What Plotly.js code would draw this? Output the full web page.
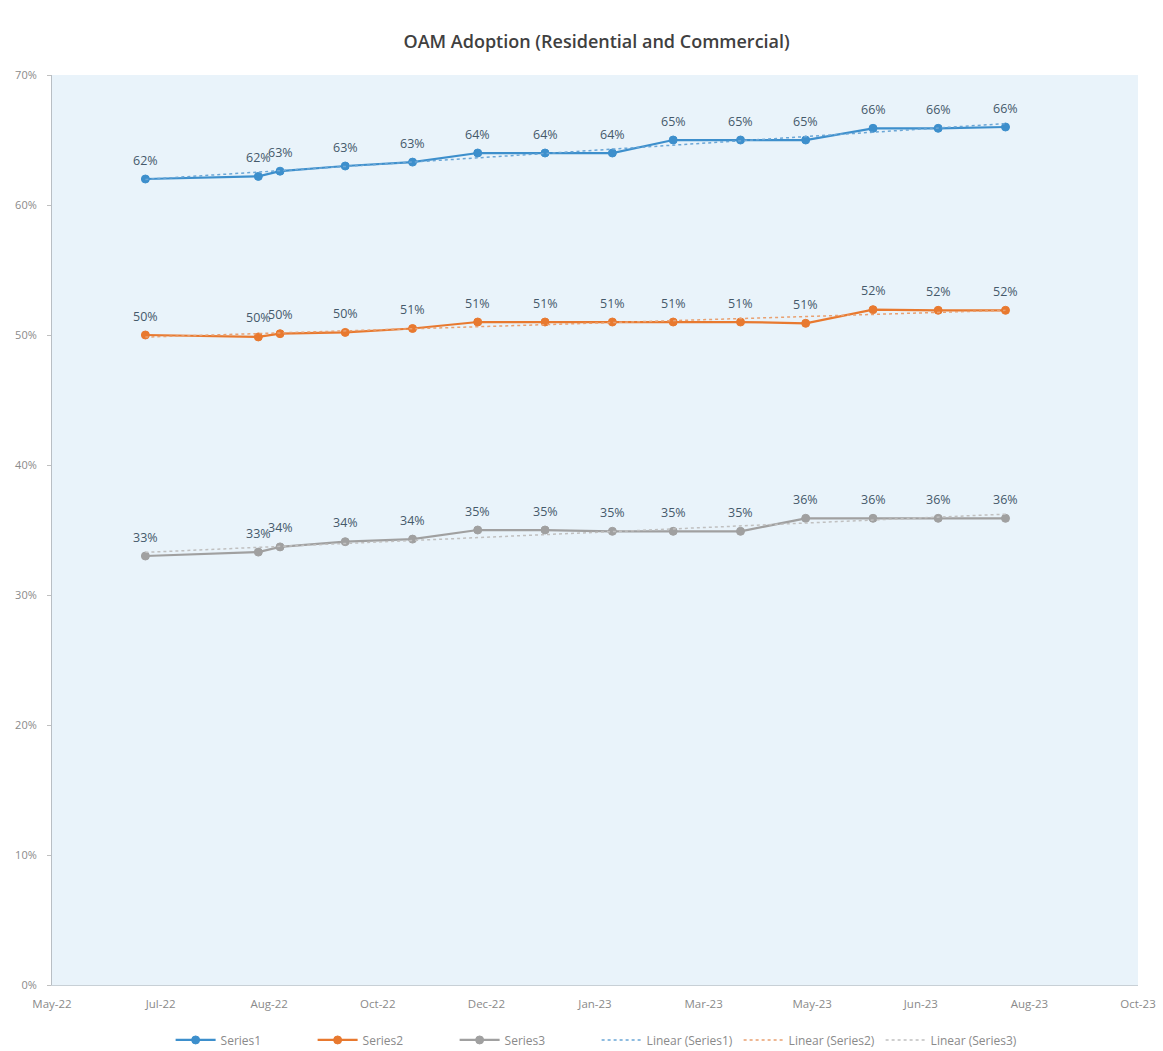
<!DOCTYPE html>
<html>
<head>
<meta charset="utf-8">
<script src="https://cdn.plot.ly/plotly-3.0.1.min.js"></script>
<style>
  html, body { margin: 0; padding: 0; background: #ffffff; }
  #chart { width: 1163px; height: 1051px; }
</style>
</head>
<body>
<div id="chart"></div>
<script>
// ---- Data ----
const dates = ['2022-07-01','2022-08-22','2022-09-01','2022-10-01','2022-11-01','2022-12-01',
               '2023-01-01','2023-02-01','2023-03-01','2023-04-01','2023-05-01','2023-06-01',
               '2023-07-01','2023-08-01'];
const series1 = [0.620, 0.622, 0.626, 0.630, 0.633, 0.640, 0.640, 0.640, 0.650, 0.650, 0.650, 0.659, 0.659, 0.660];
const series2 = [0.500, 0.4985, 0.501, 0.502, 0.505, 0.510, 0.510, 0.510, 0.510, 0.510, 0.509, 0.5195, 0.519, 0.519];
const series3 = [0.330, 0.333, 0.337, 0.341, 0.343, 0.350, 0.350, 0.349, 0.349, 0.349, 0.359, 0.359, 0.359, 0.359];

// Linear trendlines (end points)
const trendDates = ['2022-07-01', '2023-08-01'];
const trend1 = [0.6197, 0.6626];
const trend2 = [0.4984, 0.5190];
const trend3 = [0.3328, 0.3622];

const seriesNames = ['Series1', 'Series2', 'Series3'];
const trendNames = ['Linear (Series1)', 'Linear (Series2)', 'Linear (Series3)'];
const chartTitle = 'OAM Adoption (Residential and Commercial)';

// ---- Styles ----
const colors = ['#3d8fcc', '#e8792f', '#a0a0a0'];
const labelColor = '#45596a';
const fontFam = 'Open Sans, Noto Sans, sans-serif';

function lineTrace(y, name, color) {
  return {
    x: dates, y: y, name: name, type: 'scatter', mode: 'lines+markers',
    line: {color: color, width: 2.25},
    marker: {color: color, size: 8, line: {color: color, width: 1}},
    hoverinfo: 'x+y'
  };
}
function trendTrace(y, name, color) {
  return {
    x: trendDates, y: y, name: name, type: 'scatter', mode: 'lines',
    line: {color: color, width: 1.5, dash: 'dot'}, hoverinfo: 'skip'
  };
}

const traces = [
  lineTrace(series1, seriesNames[0], colors[0]),
  lineTrace(series2, seriesNames[1], colors[1]),
  lineTrace(series3, seriesNames[2], colors[2]),
  trendTrace(trend1, trendNames[0], '#6aa6d6'),
  trendTrace(trend2, trendNames[1], '#e9a070'),
  trendTrace(trend3, trendNames[2], '#c0c0c0')
];

// Data labels placed above each point
const annotations = [];
[series1, series2, series3].forEach(function (ys) {
  ys.forEach(function (v, i) {
    annotations.push({
      x: dates[i], y: v, xref: 'x', yref: 'y',
      text: Math.round(v * 100) + '%',
      showarrow: false, yshift: 19,
      font: {family: fontFam, size: 12.5, color: labelColor}
    });
  });
});

const layout = {
  width: 1163, height: 1051,
  margin: {l: 52, r: 25, t: 75, b: 66},
  paper_bgcolor: '#ffffff',
  plot_bgcolor: '#e9f3fa',
  font: {family: fontFam, color: '#8a8a8a', size: 11},
  title: {
    text: chartTitle,
    x: 0.513, xanchor: 'center', y: 0.96, yanchor: 'middle',
    font: {family: fontFam, size: 18, color: '#404040', weight: 600}
  },
  xaxis: {
    type: 'date',
    range: ['2022-05-19', '2023-10-01'],
    tick0: '2022-05-19',
    dtick: 50 * 86400000,
    tickformat: '%b-%y',
    showgrid: false, zeroline: false,
    showline: true, linecolor: '#c8d0d6', linewidth: 1,
    ticks: '', ticklen: 0,
    ticklabelstandoff: 8,
    automargin: false,
    tickfont: {family: fontFam, size: 11.5, color: '#8a8a8a'}
  },
  yaxis: {
    range: [0, 0.7], dtick: 0.1, tickformat: '.0%',
    showgrid: false, zeroline: false,
    showline: true, linecolor: '#b8bec4', linewidth: 1,
    ticks: 'outside', ticklen: 4, tickcolor: '#c0c0c0',
    ticklabelstandoff: 8,
    automargin: false,
    tickfont: {family: fontFam, size: 11, color: '#8a8a8a'}
  },
  legend: {
    orientation: 'h',
    xref: 'container', x: 0.513, xanchor: 'center',
    yref: 'container', y: 0.0105, yanchor: 'middle',
    font: {family: fontFam, size: 12, color: '#8a8a8a'},
    entrywidth: 87, entrywidthmode: 'pixels',
    itemwidth: 40,
    bgcolor: 'rgba(0,0,0,0)'
  },
  annotations: annotations,
  showlegend: true
};

Plotly.newPlot('chart', traces, layout, {displayModeBar: false, staticPlot: true});
</script>
</body>
</html>
